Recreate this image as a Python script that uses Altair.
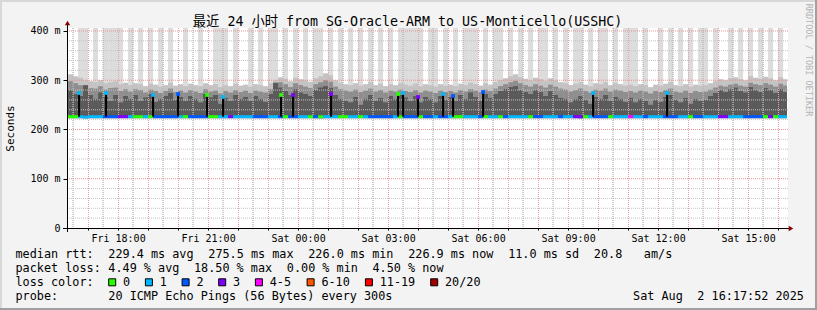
import altair as alt
import pandas as pd

# ---------------- text content ----------------
TITLE = "最近 24 小时 from SG-Oracle-ARM to US-Monticello(USSHC)"
CREDIT = "RRDTOOL / TOBI OETIKER"
Y_TITLE = "Seconds"

# ---------------- time / axis values ----------------
END_TIME = "Sat 16:17:52"
COL_START = "Fri 16:20"
STEP_MIN = 10
x_tick_times = ["Fri 18:00", "Fri 21:00", "Sat 00:00", "Sat 03:00",
                "Sat 06:00", "Sat 09:00", "Sat 12:00", "Sat 15:00"]
y_tick_values = [0, 100, 200, 300, 400]
y_tick_labels = ["0", "100 m", "200 m", "300 m", "400 m"]
Y_MAX = 406
MIN_RTT = 223          # lower edge of the smoke (ms)
MEDIAN_BASE = 226      # typical median (ms)

# ---------------- per-step series (10-minute steps) ----------------
# 1 = outermost ping of the step goes off the top of the graph
outlier = [0,0,1,1,0,1,0,1,1,1,1,0, 1,0,1,0,1,0,1,0,1,0,0,1,
           0,0,1,0,0,1,1,1,0,1,0,0, 1,0,1,0,1,1,0,1,0,1,0,1,
           0,1,1,0,1,0,1,0,1,0,1,0, 1,0,1,0,1,0,1,1,1,1,1,0,
           1,1,0,1,0,1,0,1,1,1,0,1, 0,1,1,0,1,0,1,0,1,0,1,1,
           0,1,0,1,0,1,1,0,1,0,1,1, 0,1,0,1,1,1,0,1,0,0,1,0,
           1,0,1,0,1,0,1,1,0,1,0,0, 1,0,1,0,1,0,1,0,1,0,1,0]

smoke_light = [312,308,305,300,298,296,300,294,296,298,292,295,
               290,294,292,288,293,291,287,290,295,289,292,288,
               293,290,288,294,290,292,286,290,288,293,289,291,
               287,292,290,288,294,300,306,303,298,305,302,300,
               297,304,308,314,310,300,295,292,290,294,289,292,
               296,290,293,288,292,290,294,291,289,293,288,292,
               290,287,292,289,291,288,293,290,295,292,289,294,
               291,296,300,304,308,312,306,303,300,305,302,298,
               304,300,296,294,290,293,296,291,288,294,292,296,
               290,294,292,289,291,288,292,290,286,291,289,293,
               296,290,288,292,287,291,289,290,294,298,302,300,
               304,306,302,300,308,305,303,307,304,300,306,302]

smoke_mid = [298,294,290,286,284,283,288,281,284,285,278,282,
             277,282,280,275,281,278,274,278,283,276,279,275,
             280,277,274,282,277,279,273,278,275,280,276,279,
             274,279,277,275,282,290,296,292,286,294,290,287,
             284,292,296,300,297,287,282,279,277,281,276,279,
             283,277,280,275,279,277,281,278,276,280,275,279,
             277,274,279,276,278,275,280,277,282,279,276,281,
             278,283,288,292,296,299,294,290,287,292,289,285,
             291,287,283,281,277,280,283,278,275,281,279,283,
             277,281,279,276,278,275,279,277,273,278,276,280,
             283,277,275,279,274,278,276,277,281,285,289,287,
             291,293,289,287,295,292,290,294,291,287,293,289]

smoke_dark = [280,272,268,290,270,262,275,266,258,270,255,268,
              262,270,258,265,272,256,262,268,274,260,266,258,
              268,262,255,272,265,270,252,264,258,270,262,266,
              258,268,262,256,272,295,285,278,270,282,275,272,
              268,280,285,288,284,270,262,258,255,266,250,262,
              270,258,264,255,268,262,270,265,258,268,255,266,
              262,255,268,260,266,258,270,262,275,266,258,272,
              264,272,278,282,286,288,280,276,272,280,276,268,
              278,270,264,262,255,262,268,260,252,266,262,270,
              258,266,262,256,264,255,262,258,250,260,256,266,
              270,260,255,264,252,262,258,260,268,274,280,276,
              282,285,278,275,286,280,276,284,280,274,282,276]

median = [226,226,226,225,226,226,226,226,226,226,226,226,
          226,226,226,226,226,226,226,226,226,226,226,226,
          226,226,226,226,226,226,226,226,226,226,226,226,
          226,226,226,226,226,226,226,226,226,226,226,226,
          226,226,226,226,226,226,226,226,226,226,226,226,
          226,226,226,226,226,226,226,226,226,226,226,226,
          226,226,226,226,226,226,226,226,226,226,226,226,
          226,226,226,226,226,226,226,226,226,226,226,226,
          226,226,226,226,226,226,226,226,226,226,226,226,
          226,226,226,226,226,226,226,226,226,226,226,226,
          226,226,226,226,226,226,226,226,226,226,226,226,
          226,226,226,226,226,226,226,226,226,226,226,226]

loss = [0,0,1,1,1,1,1,2,2,2,3,3, 1,0,0,1,0,2,2,2,2,2,1,0,
        2,2,2,2,0,0,1,1,3,1,1,1, 1,2,2,2,1,1,2,0,2,2,1,1,
        0,2,0,1,1,1,0,0,1,1,0,1, 2,2,2,2,2,1,0,2,2,2,0,2,
        2,1,2,2,1,0,0,1,1,1,2,0, 1,1,0,2,1,1,1,1,0,2,2,1,
        1,1,2,1,1,3,3,0,1,2,2,2, 0,1,1,1,4,1,1,2,1,1,1,2,
        2,2,1,1,0,2,2,1,1,1,3,3, 1,1,1,2,2,2,2,0,3,0,1,1]

# median jumps (isolated high steps)
jump_time = ["Fri 16:42", "Fri 17:36", "Fri 19:10", "Fri 20:00", "Fri 20:58",
             "Fri 21:30", "Fri 23:26", "Fri 23:50", "Sat 01:06", "Sat 03:20",
             "Sat 03:30", "Sat 04:00", "Sat 04:50", "Sat 05:10", "Sat 06:10",
             "Sat 09:50", "Sat 12:18"]
jump_median = [274, 274, 270, 272, 270, 266, 270, 270, 272, 272,
               274, 266, 272, 268, 276, 274, 274]
jump_loss = [1, 1, 1, 2, 0, 1, 0, 3, 3, 0, 1, 3, 1, 2, 2, 1, 1]

# ---------------- legend text ----------------
loss_labels = ["0", "1", "2", "3", "4-5", "6-10", "11-19", "20/20"]
loss_colors = ["#26ff00", "#00b8ff", "#0059ff", "#7e00ff",
               "#ff00ff", "#ff5500", "#ff0000", "#a10000"]
row1 = ["median rtt:", "229.4 ms avg", "275.5 ms max", "226.0 ms min",
        "226.9 ms now", "11.0 ms sd", "20.8", "am/s"]
row2 = ["packet loss:", "4.49 % avg", "18.50 % max", "0.00 % min", "4.50 % now"]
row3 = ["loss color:"]
row4 = ["probe:", "20 ICMP Echo Pings (56 Bytes) every 300s", "Sat Aug", "2 16:17:52 2025"]

# ---------------- layout (pixels / character columns) ----------------
W, H = 720, 200
PAD_L, PAD_T = 67, 28
CH = 7.14            # legend character pitch
LEG_X0 = 15.5
row1_col = [0, 13, 27, 41, 55, 69, 81, 88]
row2_col = [0, 13, 25, 38, 50]
row3_col = [0]
row4_col = [0, 13, 86.5, 95.5]
rows_y = [254.3, 268.3, 282.3, 296.2]
loss_label_x = [123, 159.7, 196.4, 233, 269.7, 321.4, 379.7, 445]
BOX = 7


def hours(s):
    day, hm = s.split(" ")
    parts = [int(p) for p in hm.split(":")] + [0, 0]
    return (24 if day == "Sat" else 0) + parts[0] + parts[1] / 60 + parts[2] / 3600


t_end = hours(END_TIME)
t_start = t_end - 24
t0 = hours(COL_START)
n = len(median)
cols = pd.DataFrame({
    "t0": [t0 + i * STEP_MIN / 60 for i in range(n)],
    "out": outlier, "light": smoke_light, "mid": smoke_mid, "dark": smoke_dark,
    "med": median, "loss": loss,
})
cols["t1"] = cols["t0"] + STEP_MIN / 60
cols["lo"] = MIN_RTT
cols["top"] = Y_MAX
cols["m_lo"] = cols["med"] - 3.0
cols["m_hi"] = cols["med"] + 3.0

jumps = pd.DataFrame({"t0": [hours(t) for t in jump_time],
                      "med": jump_median, "loss": jump_loss})

FONT = "DejaVu Sans Mono, Noto Sans CJK SC"
xscale = alt.Scale(domain=[t_start, t_end], nice=False, zero=False)
yscale = alt.Scale(domain=[0, Y_MAX], nice=False, zero=False)
cscale = alt.Scale(domain=list(range(8)), range=loss_colors)

tick_hours = [hours(t) for t in x_tick_times]
lab_expr = "''"
for v, lab in reversed(list(zip(tick_hours, x_tick_times))):
    lab_expr = f"abs(datum.value - {v}) < 0.01 ? '{lab}' : {lab_expr}"
y_expr = "''"
for v, lab in reversed(list(zip(y_tick_values, y_tick_labels))):
    y_expr = f"datum.value == {v} ? '{lab}' : {y_expr}"

hour_lines = list(range(int(t_start) + 1, int(t_end) + 1))
half_lines = [h + 0.5 for h in range(int(t_start), int(t_end))]
# sub-pixel shift so the hourly grid falls on pixel centres (crisp 1px dots)
px_per_h = W / 24
frac = ((hour_lines[0] - t_start) * px_per_h) % 1
GX = 0.5 - frac

x_axis = alt.Axis(values=hour_lines, labelExpr=lab_expr, tickSize=2, tickColor="black",
                  domainColor="black", labelFont=FONT, labelFontSize=10, labelColor="black",
                  labelPadding=3, grid=False, title=None, labelFlush=False, labelOverlap=False)
y_axis = alt.Axis(values=y_tick_values, labelExpr=y_expr, tickSize=4, tickColor="black",
                  domainColor="black", labelFont=FONT, labelFontSize=10, labelColor="black",
                  labelPadding=3, grid=False, title=Y_TITLE, titleFont=FONT, titleFontSize=11,
                  titleFontWeight="normal", titleColor="black", titleX=-57, titleY=100,
                  titleAlign="center", titleBaseline="middle", titleAngle=270)

X = lambda f: alt.X(f"{f}:Q", scale=xscale, axis=x_axis)
Y = lambda f: alt.Y(f"{f}:Q", scale=yscale, axis=y_axis)

one = pd.DataFrame({"a": [0]})
canvas = alt.Chart(one).mark_rect(color="white").encode(
    x=alt.value(0), x2=alt.value(W + 1), y=alt.value(0), y2=alt.value(H))

base = alt.Chart(cols)
spike = base.transform_filter("datum.out == 1").mark_rect(color="#dcdcdc", clip=True).encode(
    x=X("t0"), x2="t1", y=Y("lo"), y2="top")
light = base.mark_rect(color="#c3c3c3", clip=True).encode(x=X("t0"), x2="t1", y=Y("lo"), y2="light")
mid = base.mark_rect(color="#8e8e8e", clip=True).encode(x=X("t0"), x2="t1", y=Y("lo"), y2="mid")
dark = base.mark_rect(color="#5a5a5a", clip=True).encode(x=X("t0"), x2="t1", y=Y("lo"), y2="dark")

grid_minor = pd.DataFrame({"gm": half_lines})
grid_major = pd.DataFrame({"gx": hour_lines})
grid_h = pd.DataFrame({"gy": list(range(20, 401, 20))})
grid_h["major"] = (grid_h["gy"] % 100 == 0).astype(int)
gcol_h = alt.Scale(domain=[0, 1], range=["#c4c4c4", "#e69494"])
# minor (half-hour) grid: thin 1px-wide rects made of dots via dashed rule, no sub-pixel shift
g_v1 = alt.Chart(grid_minor).mark_rule(strokeDash=[1, 1], strokeWidth=1.4, color="#b8b8b8").encode(
    x=X("gm"), y=alt.value(0), y2=alt.value(H))
g_v2 = alt.Chart(grid_major).mark_rule(strokeDash=[1, 1], strokeWidth=1, color="#e8a2a2",
                                       xOffset=GX).encode(
    x=X("gx"), y=alt.value(0), y2=alt.value(H))
g_h = alt.Chart(grid_h).mark_rule(strokeDash=[1, 1], strokeWidth=1).encode(
    y=Y("gy"), x=alt.value(0), x2=alt.value(W + 1),
    color=alt.Color("major:O", scale=gcol_h, legend=None), order="major:Q")

med_line = base.mark_rect(clip=True).encode(
    x=X("t0"), x2="t1", y=Y("m_lo"), y2="m_hi",
    color=alt.Color("loss:O", scale=cscale, legend=None))
jump_rule = alt.Chart(jumps).mark_rule(color="black", strokeWidth=2).encode(
    x=X("t0"), y=Y("med"), y2=alt.datum(MEDIAN_BASE))
jump_pt = alt.Chart(jumps).mark_square(size=14, opacity=1).encode(
    x=X("t0"), y=Y("med"), color=alt.Color("loss:O", scale=cscale, legend=None))

yext = alt.Chart(one).mark_rule(color="black").encode(
    x=alt.value(0.5), y=alt.value(-4), y2=alt.value(H + 4))
xext = alt.Chart(one).mark_rule(color="black").encode(
    x=alt.value(-4), x2=alt.value(W + 4), y=alt.value(H + 0.5))
arr_up = alt.Chart(one).mark_point(shape="triangle-up", filled=True, size=28, opacity=1,
                                   color="#8b0000").encode(x=alt.value(0.5), y=alt.value(-5))
arr_rt = alt.Chart(one).mark_point(shape="triangle-right", filled=True, size=28, opacity=1,
                                   color="#8b0000").encode(x=alt.value(W + 4), y=alt.value(H + 0.5))

# text rows
recs = []
for row, cs, yy in [(row1, row1_col, rows_y[0]), (row2, row2_col, rows_y[1]),
                    (row3, row3_col, rows_y[2]), (row4, row4_col, rows_y[3])]:
    for s, c in zip(row, cs):
        recs.append({"text": s, "px": LEG_X0 + c * CH - PAD_L, "py": yy - PAD_T})
for s, xx in zip(loss_labels, loss_label_x):
    recs.append({"text": s, "px": xx - PAD_L, "py": rows_y[2] - PAD_T})
legend_text = alt.Chart(pd.DataFrame(recs)).mark_text(
    align="left", baseline="middle", font=FONT, fontSize=11.8, color="black").encode(
    x=alt.X("px:Q", scale=None), y=alt.Y("py:Q", scale=None), text="text:N")

boxes = pd.DataFrame({"bx": [xx - 14.3 - PAD_L for xx in loss_label_x],
                      "by": [rows_y[2] - 3.5 - PAD_T] * len(loss_labels),
                      "c": loss_colors})
boxes["bx2"] = boxes["bx"] + BOX
boxes["by2"] = boxes["by"] + BOX
box_marks = alt.Chart(boxes).mark_rect(stroke="black", strokeWidth=1).encode(
    x=alt.X("bx:Q", scale=None), x2="bx2", y=alt.Y("by:Q", scale=None), y2="by2",
    color=alt.Color("c:N", scale=None))

title = alt.Chart(pd.DataFrame({"text": [TITLE], "px": [407.5 - PAD_L], "py": [21.5 - PAD_T]})).mark_text(
    align="center", baseline="middle", font=FONT, fontSize=13.3, color="black").encode(
    x=alt.X("px:Q", scale=None), y=alt.Y("py:Q", scale=None), text="text:N")
credit = alt.Chart(pd.DataFrame({"text": [CREDIT], "px": [808.5 - PAD_L], "py": [60 - PAD_T]})).mark_text(
    align="center", baseline="middle", font=FONT, fontSize=8.5, color="#b4b4b4", angle=90).encode(
    x=alt.X("px:Q", scale=None), y=alt.Y("py:Q", scale=None), text="text:N")

frame_r = alt.Chart(one).mark_rule(color="#a0a0a0", strokeWidth=2).encode(
    x=alt.value(817 - PAD_L - 1), y=alt.value(-PAD_T), y2=alt.value(310 - PAD_T))
frame_b = alt.Chart(one).mark_rule(color="#a0a0a0", strokeWidth=2).encode(
    x=alt.value(-PAD_L), x2=alt.value(817 - PAD_L), y=alt.value(310 - PAD_T - 1))
frame_t = alt.Chart(one).mark_rule(color="#d8d8d8", strokeWidth=2).encode(
    x=alt.value(-PAD_L), x2=alt.value(817 - PAD_L - 2), y=alt.value(-PAD_T + 1))
frame_l = alt.Chart(one).mark_rule(color="#d8d8d8", strokeWidth=2).encode(
    x=alt.value(-PAD_L + 1), y=alt.value(-PAD_T), y2=alt.value(310 - PAD_T - 2))

chart = alt.layer(
    canvas, spike, light, mid, dark, g_v1, g_v2, g_h, med_line, jump_rule, jump_pt,
    yext, xext, arr_up, arr_rt, legend_text, box_marks, title, credit,
    frame_r, frame_b, frame_t, frame_l,
).resolve_scale(color="independent").properties(
    width=W, height=H,
    autosize=alt.AutoSizeParams(type="none"),
    padding={"left": PAD_L, "top": PAD_T, "right": 817 - PAD_L - W, "bottom": 310 - PAD_T - H},
).configure_view(strokeWidth=0).configure(background="#f3f3f3")

chart.save("out.html", embed_options={"renderer": "svg", "actions": False})
